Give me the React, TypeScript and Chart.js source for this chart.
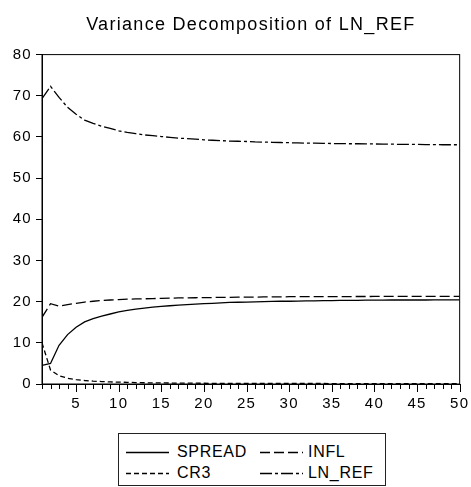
import React, { useEffect, useRef } from "react";
import { Chart, registerables } from "chart.js";

Chart.register(...registerables);

const TITLE = "Variance Decomposition of LN_REF";

const PERIODS = [
  1, 2, 3, 4, 5, 6, 7, 8, 9, 10, 11, 12, 13, 14, 15, 16, 17, 18, 19, 20, 21, 22, 23, 24, 25,
  26, 27, 28, 29, 30, 31, 32, 33, 34, 35, 36, 37, 38, 39, 40, 41, 42, 43, 44, 45, 46, 47, 48, 49, 50,
];

const SPREAD = [
  4.5, 5.0, 9.4, 12.0, 13.8, 15.1, 15.9, 16.5, 17.0, 17.5, 17.9, 18.2, 18.45, 18.65, 18.85, 19.0, 19.15, 19.3, 19.4, 19.5,
  19.6, 19.7, 19.8, 19.85, 19.9, 19.95, 20.0, 20.05, 20.1, 20.1, 20.15, 20.2, 20.2, 20.25, 20.25, 20.3, 20.3, 20.3, 20.35, 20.35,
  20.35, 20.4, 20.4, 20.4, 20.4, 20.4, 20.45, 20.45, 20.45, 20.45,
];

const INFL = [
  16.2, 19.5, 18.9, 19.3, 19.6, 19.9, 20.1, 20.3, 20.4, 20.5, 20.6, 20.65, 20.7, 20.75, 20.8, 20.85, 20.9, 20.9, 20.95, 21.0,
  21.0, 21.05, 21.05, 21.1, 21.1, 21.1, 21.15, 21.15, 21.15, 21.2, 21.2, 21.2, 21.2, 21.22, 21.22, 21.24, 21.24, 21.25, 21.25, 21.26,
  21.26, 21.27, 21.27, 21.28, 21.28, 21.28, 21.29, 21.29, 21.3, 21.3,
];

const CR3 = [
  10.0, 3.4, 2.0, 1.4, 1.05, 0.85, 0.7, 0.6, 0.5, 0.45, 0.4, 0.35, 0.3, 0.28, 0.26, 0.24, 0.22, 0.2, 0.19, 0.18,
  0.17, 0.16, 0.16, 0.15, 0.15, 0.14, 0.14, 0.13, 0.13, 0.13, 0.12, 0.12, 0.12, 0.12, 0.11, 0.11, 0.11, 0.11, 0.11, 0.1,
  0.1, 0.1, 0.1, 0.1, 0.1, 0.1, 0.1, 0.1, 0.1, 0.1,
];

const LN_REF = [
  69.3, 72.3, 69.6, 67.2, 65.5, 64.1, 63.3, 62.6, 62.1, 61.5, 61.1, 60.8, 60.5, 60.3, 60.1, 59.9, 59.7, 59.6, 59.45, 59.3,
  59.2, 59.1, 59.0, 58.95, 58.9, 58.8, 58.75, 58.7, 58.65, 58.6, 58.55, 58.5, 58.5, 58.45, 58.4, 58.4, 58.35, 58.35, 58.3, 58.3,
  58.25, 58.25, 58.2, 58.2, 58.2, 58.15, 58.15, 58.1, 58.1, 58.1,
];

const Y_TICKS = [0, 10, 20, 30, 40, 50, 60, 70, 80];

const SERIES_NAMES = ["SPREAD", "INFL", "CR3", "LN_REF"];
const DASHES: number[][] = [[], [10, 4], [5, 3], [12, 3, 3, 3]];
const SERIES_DATA = [SPREAD, INFL, CR3, LN_REF];

const FONT = 'Arial, "Liberation Sans", Helvetica, sans-serif';

const framePlugin = {
  id: "frameTicks",
  beforeDraw(chart: any) {
    chart.ctx.letterSpacing = "1.3px";
  },
  afterDraw(chart: any) {
    const ctx = chart.ctx;
    const { left, right, top, bottom } = chart.chartArea;
    const xs = chart.scales.x;
    ctx.save();
    ctx.strokeStyle = "#000";
    ctx.lineWidth = 1;
    ctx.setLineDash([]);
    ctx.strokeRect(left, top, right - left, bottom - top);
    ctx.beginPath();
    for (const p of PERIODS) {
      const px = Math.round(xs.getPixelForValue(p)) + 0.5;
      const len = p % 5 === 0 ? 8 : 5;
      ctx.moveTo(px, bottom);
      ctx.lineTo(px, bottom + len);
    }
    ctx.stroke();
    ctx.restore();
    ctx.letterSpacing = "0px";
  },
};

function LegendBox() {
  const items = [
    { name: SERIES_NAMES[0], dash: DASHES[0], lx: 8, tx: 59, cy: 18.5 },
    { name: SERIES_NAMES[1], dash: DASHES[1], lx: 142, tx: 190, cy: 18.5 },
    { name: SERIES_NAMES[2], dash: DASHES[2], lx: 8, tx: 59, cy: 40 },
    { name: SERIES_NAMES[3], dash: DASHES[3], lx: 142, tx: 190, cy: 40 },
  ];
  return (
    <div
      style={{
        position: "absolute",
        left: 118,
        top: 433,
        width: 268,
        height: 53,
        boxSizing: "border-box",
        border: "1px solid #222",
        background: "#fff",
        fontFamily: FONT,
        fontSize: 16,
        letterSpacing: "0.7px",
        color: "#000",
      }}
    >
      {items.map((it) => (
        <React.Fragment key={it.name}>
          <svg
            width={44}
            height={6}
            style={{ position: "absolute", left: it.lx - 1, top: it.cy - 4 }}
          >
            <line
              x1={0}
              y1={3.5}
              x2={43}
              y2={3.5}
              stroke="#000"
              strokeWidth={1.3}
              strokeDasharray={it.dash.length ? it.dash.join(",") : undefined}
            />
          </svg>
          <span
            style={{
              position: "absolute",
              left: it.tx - 1,
              top: it.cy - 10,
              lineHeight: "18px",
              whiteSpace: "nowrap",
            }}
          >
            {it.name}
          </span>
        </React.Fragment>
      ))}
    </div>
  );
}

export default function App() {
  const ref = useRef<HTMLCanvasElement | null>(null);

  useEffect(() => {
    if (!ref.current) return;
    const datasets = SERIES_NAMES.map((name, k) => ({
      label: name,
      data: SERIES_DATA[k].map((v, i) => ({ x: PERIODS[i], y: v })),
      borderColor: "#000",
      backgroundColor: "#000",
      borderWidth: 1.3,
      borderDash: DASHES[k],
      pointRadius: 0,
      fill: false,
      tension: 0,
    }));
    const chart = new Chart(ref.current, {
      type: "line",
      data: { datasets },
      plugins: [framePlugin],
      options: {
        animation: false,
        responsive: false,
        devicePixelRatio: 1,
        layout: { padding: { left: 0, right: 8, top: 0, bottom: 4 } },
        plugins: {
          legend: { display: false },
          tooltip: { enabled: false },
          title: {
            display: true,
            fullSize: false,
            text: TITLE,
            color: "#000",
            font: { family: FONT, size: 18, weight: "normal" },
            padding: { top: 14, bottom: 19 },
          },
        },
        scales: {
          x: {
            type: "linear",
            min: PERIODS[0],
            max: PERIODS[PERIODS.length - 1],
            grid: {
              display: true,
              drawOnChartArea: false,
              drawTicks: true,
              tickLength: 8,
              color: "rgba(0,0,0,0)",
            },
            border: { display: true, color: "#000", width: 1 },
            ticks: {
              stepSize: 1,
              autoSkip: false,
              maxRotation: 0,
              padding: 3,
              color: "#000",
              font: { family: FONT, size: 15 },
              callback: (v: any) => (Number(v) % 5 === 0 ? String(v) : ""),
            },
          },
          y: {
            type: "linear",
            min: Y_TICKS[0],
            max: Y_TICKS[Y_TICKS.length - 1],
            afterFit: (s: any) => {
              s.width = 42;
            },
            grid: {
              display: true,
              drawOnChartArea: false,
              drawTicks: true,
              tickLength: 6,
              color: "#000",
            },
            border: { display: true, color: "#000", width: 1 },
            ticks: {
              stepSize: 10,
              padding: 4,
              color: "#000",
              font: { family: FONT, size: 15 },
            },
          },
        },
      } as any,
    });
    return () => chart.destroy();
  }, []);

  return (
    <div style={{ position: "absolute", left: 0, top: 0, width: 471, height: 487, background: "#fff" }}>
      <canvas ref={ref} width={471} height={420} style={{ display: "block" }} />
      <LegendBox />
    </div>
  );
}
